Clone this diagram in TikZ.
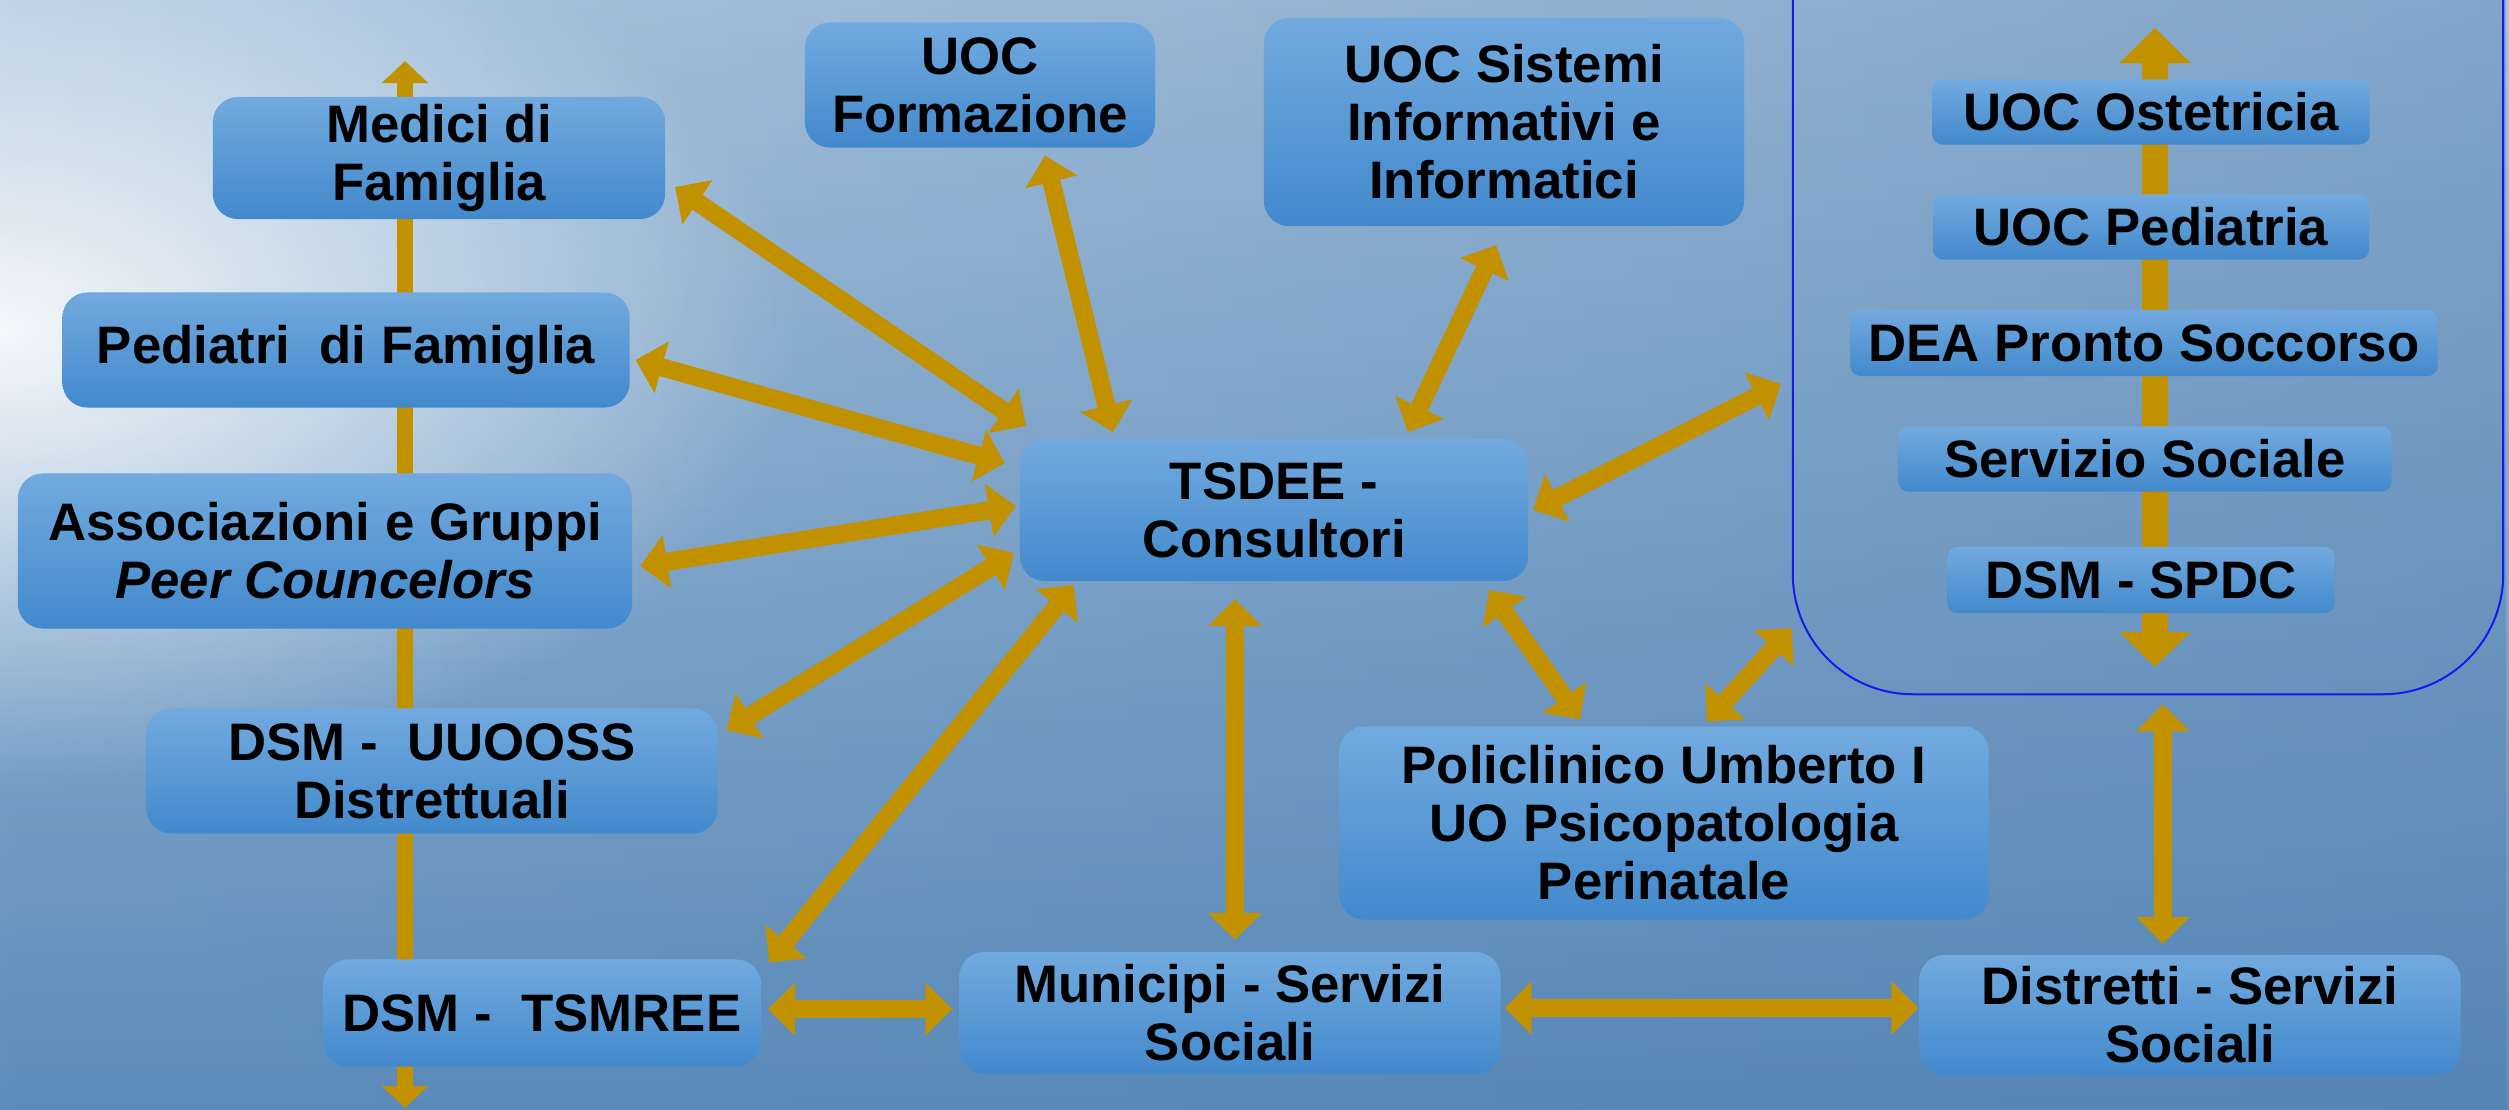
\documentclass[tikz,border=0pt]{standalone}
\usepackage{fontspec}
\setmainfont{Liberation Sans}
\usepackage{xcolor}
\usepackage{tikz}
\usetikzlibrary{positioning,shapes,arrows.meta,fadings}

\definecolor{gold}{RGB}{193,145,0}
\definecolor{boxtop}{RGB}{114,170,223}
\definecolor{boxbot}{RGB}{66,137,204}
\definecolor{grpline}{RGB}{25,25,235}
\definecolor{skytop}{RGB}{172,198,222}
\definecolor{skybot}{RGB}{92,140,186}
\definecolor{skydark}{RGB}{78,126,176}

\tikzfading[name=glow, inner color=transparent!0, outer color=transparent!100]
\tikzfading[name=toright, left color=transparent!100, right color=transparent!0]

\begin{document}
\begin{tikzpicture}[
  x=0.01cm, y=-0.01cm,
  unit/.style={rectangle, rounded corners=0.25cm, top color=boxtop, bottom color=boxbot,
    align=center, inner sep=0pt, outer sep=0pt, font=\bfseries\fontsize{15}{16.5}\selectfont},
  ward/.style={unit, rounded corners=0.1cm},
  link/.style={{Triangle[length=0.27cm,width=0.52cm]}-{Triangle[length=0.27cm,width=0.52cm]},
    line width=0.18cm, draw=gold},
  spine/.style={{Triangle[length=0.22cm,width=0.45cm]}-{Triangle[length=0.22cm,width=0.45cm]},
    line width=0.16cm, draw=gold},
]
  % background
  \clip (0,0) rectangle (2509,1109);
  \shade[top color=skytop, bottom color=skybot] (0,0) rectangle (2509,1109);
  \fill[skydark, opacity=0.45, path fading=toright] (0,0) rectangle (2509,1109);
  \fill[white, opacity=0.9, path fading=glow] (0,330) ellipse [x radius=8cm, y radius=4.6cm];

  % spines behind the boxes
  \coordinate (ltop) at (405,61);
  \coordinate (lbot) at (405,1108);
  \draw[spine] (ltop) -- (lbot);
  \coordinate (rtop) at (2155,28);
  \coordinate (rbot) at (2155,667);
  \draw[spine, line width=0.26cm, {Triangle[length=0.35cm,width=0.69cm]}-{Triangle[length=0.35cm,width=0.69cm]}] (rtop) -- (rbot);

  % hospital group
  \node[draw=grpline, line width=0.02cm, rounded corners=1.2cm, minimum width=7.1cm,
    minimum height=8.44cm, inner sep=0pt, outer sep=0pt] (hospital) at (2148,272) {};
  \node[ward, minimum width=4.37cm, minimum height=0.65cm] (ostetr) at (2151,112) {UOC Ostetricia};
  \node[ward, minimum width=4.36cm, minimum height=0.65cm] (pediatr) at (2151,227) {UOC Pediatria};
  \node[ward, minimum width=5.87cm, minimum height=0.66cm] (dea) at (2144,343) {DEA Pronto Soccorso};
  \node[ward, minimum width=4.93cm, minimum height=0.65cm] (servsoc) at (2145,459) {Servizio Sociale};
  \node[ward, minimum width=3.87cm, minimum height=0.66cm] (spdc) at (2141,580) {DSM - SPDC};

  % left column
  \node[unit, minimum width=4.52cm, minimum height=1.22cm] (medici) at (439,158) {Medici di\\Famiglia};
  \node[unit, minimum width=5.67cm, minimum height=1.15cm] (pediatri) at (346,350) {Pediatri\ \ di Famiglia};
  \node[unit, minimum width=6.14cm, minimum height=1.55cm] (assoc) at (325,551) {Associazioni e Gruppi\\\textit{Peer Councelors}};
  \node[unit, minimum width=5.71cm, minimum height=1.25cm] (uuooss) at (432,771) {DSM -\ \ UUOOSS\\Distrettuali};
  \node[unit, minimum width=4.38cm, minimum height=1.07cm] (tsmree) at (542,1013) {DSM -\ \ TSMREE};

  % centre
  \node[unit, minimum width=3.5cm, minimum height=1.25cm] (formaz) at (980,85) {UOC\\Formazione};
  \node[unit, minimum width=4.8cm, minimum height=2.08cm] (sistemi) at (1504,122) {UOC Sistemi\\Informativi e\\Informatici};
  \node[unit, minimum width=5.08cm, minimum height=1.42cm] (tsdee) at (1274,510) {TSDEE -\\Consultori};
  \node[unit, minimum width=6.49cm, minimum height=1.93cm] (policl) at (1664,823) {Policlinico Umberto I\\UO Psicopatologia\\Perinatale};
  \node[unit, minimum width=5.41cm, minimum height=1.22cm] (municipi) at (1230,1013) {Municipi - Servizi\\Sociali};
  \node[unit, minimum width=5.41cm, minimum height=1.2cm] (distretti) at (2190,1015) {Distretti - Servizi\\Sociali};

  \draw[link] ([shift={(10,29)}]medici.east) -- ([shift={(6,-13)}]tsdee.north west);
  \draw[link] ([shift={(6,10)}]pediatri.east) -- ([shift={(-15,-47)}]tsdee.west);
  \draw[link] ([shift={(8,15)}]assoc.east) -- ([shift={(-4,-4)}]tsdee.west);
  \draw[link] ([shift={(9,-41)}]uuooss.east) -- ([shift={(-6,43)}]tsdee.west);
  \draw[link] ([shift={(8,3)}]tsmree.north east) -- ([shift={(54,4)}]tsdee.south west);
  \draw[link] ([shift={(7,-4)}]tsmree.east) -- ([shift={(-7,-4)}]municipi.west);
  \draw[link] ([shift={(65,8)}]formaz.south) -- ([shift={(93,-7)}]tsdee.north west);
  \draw[link] ([shift={(-8,19)}]sistemi.south) -- ([shift={(134,-7)}]tsdee.north);
  \draw[link] ([shift={(5,0)}]tsdee.east) -- ([shift={(-12,112)}]hospital.west);
  \draw[link] ([shift={(-39,18)}]tsdee.south) -- ([shift={(5,-12)}]municipi.north);
  \draw[link] ([shift={(-39,9)}]tsdee.south east) -- ([shift={(-84,-7)}]policl.north);
  \draw[link] ([shift={(43,-5)}]policl.north) -- ([shift={(-1,-66)}]hospital.south west);
  \draw[link] ([shift={(4,-5)}]municipi.east) -- ([shift={(-1,-7)}]distretti.west);
  \draw[link] ([shift={(15,10)}]hospital.south) -- ([shift={(-27,-11)}]distretti.north);
\end{tikzpicture}
\end{document}
